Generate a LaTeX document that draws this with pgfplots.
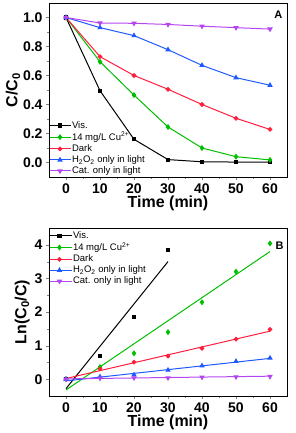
\documentclass[border=0pt]{standalone}
\usepackage{pgfplots}
\pgfplotsset{compat=1.18}
\usepackage{fontspec}
\setmainfont{Liberation Sans}
\definecolor{cgreen}{RGB}{0,190,0}
\definecolor{cred}{RGB}{255,30,60}
\definecolor{cblue}{RGB}{30,90,255}
\definecolor{cviolet}{RGB}{180,70,240}
\pgfplotsset{
  common/.style={
    scale only axis, width=238pt,
    xmin=-5, xmax=65,
    xtick={0,10,...,60}, minor x tick num=1,
    tick align=outside, xtick pos=bottom, ytick pos=left,
    major tick length=3pt, minor tick length=1.8pt,
    /pgf/number format/assume math mode=true,
    tick label style={font=\fontsize{14}{16}\selectfont\bfseries},
    label style={font=\fontsize{16}{18}\selectfont\bfseries},
    xlabel={Time (min)},
    xlabel style={yshift=4pt},
    legend cell align=left,
    every axis plot/.append style={line width=1pt},
    mark options={solid},
  },
  pts/.style={only marks,
    legend image code/.code={\path (0pt,0pt) -- (22pt,0pt); \draw plot coordinates {(10pt,0pt)};}},
}
\begin{document}
\begin{tikzpicture}
\path[use as bounding box] (0,0) rectangle (296pt,-433pt);
\begin{axis}[common,
  at={(49pt,-3pt)}, anchor=north west, height=174pt,
  ymin=-0.1, ymax=1.1, ytick={0,0.2,...,1.0}, minor y tick num=1,
  yticklabel style={/pgf/number format/.cd,fixed,fixed zerofill,precision=1},
  ylabel={C/C\textsubscript{0}},
  ylabel style={yshift=-4pt},
  legend style={at={(0,0.005)}, anchor=south west, draw=none, fill=none,
    font=\fontsize{9.5}{10.5}\selectfont, inner sep=0pt, outer sep=0pt,
    row sep=0.6pt, nodes={inner sep=1pt}},
  legend image code/.code={\draw[mark repeat=2,mark phase=2] plot coordinates {(0pt,0pt) (10.5pt,0pt) (21pt,0pt)};},
]
\addplot[black, mark=square*, mark size=1.6pt] coordinates {(0,1.0) (10,0.495) (20,0.16) (30,0.02) (40,0.005) (50,0.003) (60,0.003)};
\addlegendentry{Vis.}
\addplot[cgreen, mark=diamond*, mark size=2.2pt] coordinates {(0,1.0) (10,0.695) (20,0.465) (30,0.245) (40,0.10) (50,0.04) (60,0.018)};
\addlegendentry{14 mg/L Cu\textsuperscript{2+}}
\addplot[cred, mark=*, mark size=1.8pt] coordinates {(0,1.0) (10,0.73) (20,0.60) (30,0.505) (40,0.40) (50,0.305) (60,0.228)};
\addlegendentry{Dark}
\addplot[cblue, mark=triangle*, mark size=2.2pt] coordinates {(0,1.0) (10,0.93) (20,0.875) (30,0.778) (40,0.67) (50,0.585) (60,0.533)};
\addlegendentry{H\textsubscript{2}O\textsubscript{2} only in light}
\addplot[cviolet, mark=triangle*, mark size=2.2pt, mark options={rotate=180}] coordinates {(0,1.0) (10,0.962) (20,0.96) (30,0.952) (40,0.94) (50,0.93) (60,0.92)};
\addlegendentry{Cat. only in light}
\node[font=\fontsize{11}{12}\selectfont\bfseries, anchor=north east] at (rel axis cs:0.995,0.975) {A};
\end{axis}
\begin{axis}[common,
  at={(49pt,-228pt)}, anchor=north west, height=168pt,
  ymin=-0.5, ymax=4.5, ytick={0,1,2,3,4}, minor y tick num=1,
  ylabel={Ln(C\textsubscript{0}/C)},
  ylabel style={yshift=-2pt},
  legend style={at={(0.0,0.985)}, anchor=north west, draw=none, fill=none,
    font=\fontsize{9.5}{10.5}\selectfont, inner sep=0pt, outer sep=0pt,
    row sep=0.6pt, nodes={inner sep=1pt}},
]
\addplot[black, pts, mark=square*, mark size=1.6pt] coordinates {(0,0) (10,0.70) (20,1.84) (30,3.84)};
\addlegendentry{Vis.}
\addplot[cgreen, pts, mark=diamond*, mark size=2.2pt] coordinates {(0,0) (10,0.36) (20,0.77) (30,1.40) (40,2.29) (50,3.20) (60,4.04)};
\addlegendentry{14 mg/L Cu\textsuperscript{2+}}
\addplot[cred, pts, mark=*, mark size=1.8pt] coordinates {(0,0) (10,0.31) (20,0.51) (30,0.69) (40,0.92) (50,1.19) (60,1.48)};
\addlegendentry{Dark}
\addplot[cblue, pts, mark=triangle*, mark size=2.2pt] coordinates {(0,0) (10,0.07) (20,0.13) (30,0.27) (40,0.40) (50,0.53) (60,0.63)};
\addlegendentry{H\textsubscript{2}O\textsubscript{2} only in light}
\addplot[cviolet, pts, mark=triangle*, mark size=2.2pt, mark options={rotate=180}] coordinates {(0,0) (10,0.03) (20,0.04) (30,0.04) (40,0.06) (50,0.07) (60,0.08)};
\addlegendentry{Cat. only in light}
\addplot[black, forget plot] coordinates {(0,-0.28) (30,3.5)};
\addplot[cgreen, forget plot] coordinates {(0,-0.32) (60,3.8)};
\addplot[cred, forget plot] coordinates {(0,0.02) (60,1.43)};
\addplot[cblue, forget plot] coordinates {(0,-0.05) (60,0.62)};
\addplot[cviolet, forget plot] coordinates {(0,0.01) (60,0.09)};
\node[font=\fontsize{11}{12}\selectfont\bfseries, anchor=north east] at (rel axis cs:1.0,0.94) {B};
\end{axis}
\end{tikzpicture}
\end{document}
